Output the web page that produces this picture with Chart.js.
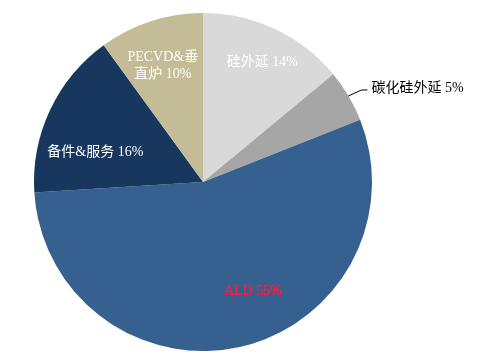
<!DOCTYPE html>
<html><head><meta charset="utf-8">
<script src="https://cdn.jsdelivr.net/npm/chart.js@4/dist/chart.umd.min.js"></script>
<style>html,body{margin:0;padding:0;background:#fff}canvas{display:block}</style>
</head><body>
<canvas id="c" width="497" height="359"></canvas>
<script>
const categories = ["硅外延", "碳化硅外延", "ALD", "备件&服务", "PECVD&垂直炉"];
const values = [14, 5, 55, 16, 10];
const labelLines = [["硅外延 14%"], ["碳化硅外延 5%"], ["ALD 55%"], ["备件&服务 16%"], ["PECVD&垂", "直炉 10%"]];
const colors = ["#D9D9D9", "#A6A6A6", "#36608F", "#17375E", "#C4BC96"];
const labelColors = ["#FFFFFF", "#000000", "#FF1A3C", "#FFFFFF", "#FFFFFF"];
// label placement: [angle offset from slice mid (deg), radius fraction, outside?]
const labelPlace = [[1.2, 0.79, false], [0, 1, true], [-12, 0.71, false], [-10, 0.66, false], [-1, 0.73, false]];

const FONT = '14px "Liberation Serif", "Noto Sans CJK SC", serif';

const labelPlugin = {
  id: 'sliceLabels',
  afterDatasetsDraw(chart) {
    const ctx = chart.ctx;
    const meta = chart.getDatasetMeta(0);
    ctx.save();
    ctx.font = FONT;
    ctx.textBaseline = 'middle';
    meta.data.forEach((arc, i) => {
      const p = arc.getProps(['x','y','startAngle','endAngle','outerRadius'], true);
      const place = labelPlace[i];
      const mid = (p.startAngle + p.endAngle) / 2 + place[0] * Math.PI / 180;
      ctx.fillStyle = labelColors[i];
      if (place[2]) {
        const ex = p.x + Math.cos(mid) * p.outerRadius;
        const ey = p.y + Math.sin(mid) * p.outerRadius;
        const kx = ex + 13, ky = ey - 6;
        ctx.strokeStyle = '#000';
        ctx.lineWidth = 1;
        ctx.beginPath();
        ctx.moveTo(ex, ey);
        ctx.lineTo(kx, ky);
        ctx.lineTo(kx + 6, ky);
        ctx.stroke();
        ctx.textAlign = 'left';
        ctx.fillText(labelLines[i][0], kx + 10, ky - 2);
      } else {
        const r = p.outerRadius * place[1];
        const cx = p.x + Math.cos(mid) * r;
        const cy = p.y + Math.sin(mid) * r;
        ctx.textAlign = 'center';
        const lines = labelLines[i];
        const lh = 17;
        lines.forEach((t, k) => {
          const ty = cy + (k - (lines.length - 1) / 2) * lh;
          ctx.fillText(t, cx, ty);
          if (i === 2) {
            ctx.strokeStyle = labelColors[i];
            ctx.lineWidth = 0.5;
            ctx.strokeText(t, cx, ty);
          }
        });
      }
    });
    ctx.restore();
  }
};

new Chart(document.getElementById('c'), {
  type: 'pie',
  data: {
    labels: categories,
    datasets: [{
      data: values,
      backgroundColor: colors,
      borderWidth: 0
    }]
  },
  options: {
    responsive: false,
    animation: false,
    layout: { padding: { left: 34, right: 125, top: 13, bottom: 8 } },
    plugins: { legend: { display: false }, tooltip: { enabled: false } }
  },
  plugins: [labelPlugin]
});
</script>
</body></html>
